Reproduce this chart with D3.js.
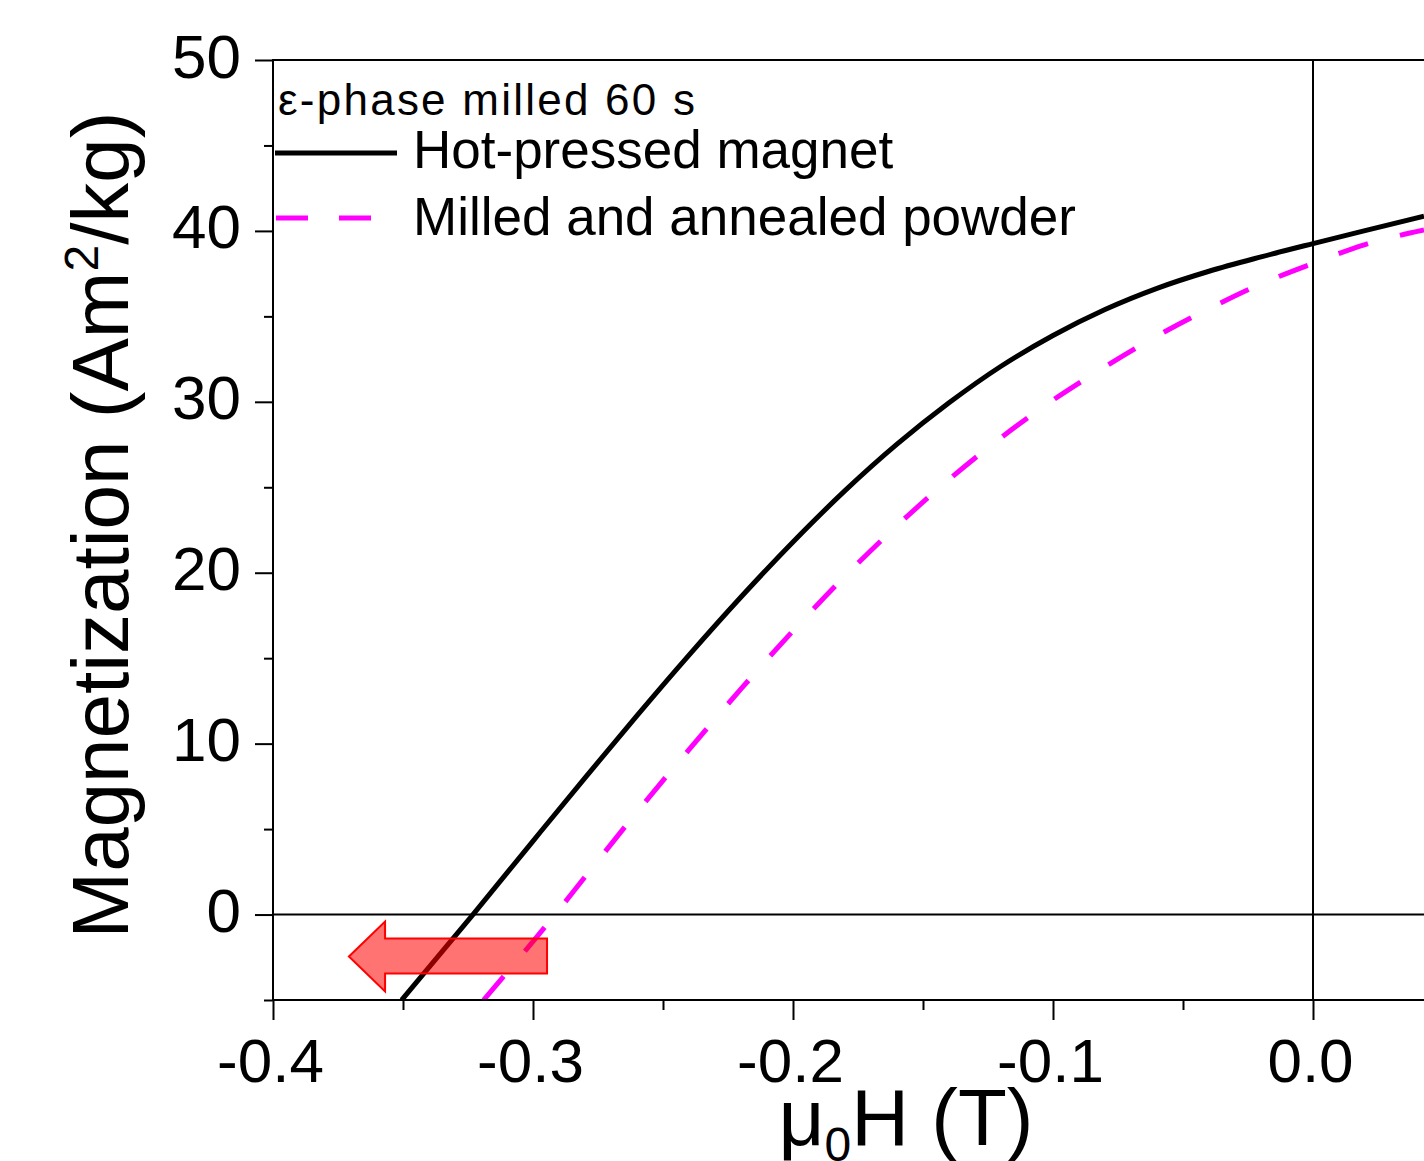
<!DOCTYPE html>
<html>
<head>
<meta charset="utf-8">
<script src="https://cdn.jsdelivr.net/npm/d3@7"></script>
<style>
  html, body { margin: 0; padding: 0; background: #fff; }
  svg { display: block; font-family: "Liberation Sans", Arial, sans-serif; }
</style>
</head>
<body>
<svg id="chart" width="1424" height="1161"></svg>
<script>
// ---- data ----
const hotPressedH = [-0.3505, -0.3231, -0.30, -0.28, -0.26, -0.24, -0.22, -0.20, -0.18, -0.16, -0.14, -0.12, -0.10, -0.08, -0.06, -0.04, -0.02, 0.00, 0.02, 0.0427];
const hotPressedM = [-5.0, 0.0, 4.3, 8.0, 11.64, 15.18, 18.58, 21.8, 24.8, 27.52, 29.94, 32.08, 33.88, 35.4, 36.64, 37.64, 38.48, 39.26, 40.02, 40.86];

const milledH = [-0.319, -0.2915, -0.28, -0.26, -0.24, -0.22, -0.20, -0.18, -0.16, -0.14, -0.12, -0.10, -0.08, -0.06, -0.04, -0.02, 0.00, 0.02, 0.0427];
const milledM = [-5.0, 0.0, 2.2, 6.0, 9.65, 13.2, 16.6, 19.8, 22.75, 25.45, 27.9, 30.1, 32.05, 33.85, 35.45, 36.9, 38.1, 39.2, 40.05];

const seriesNames = ["Hot-pressed magnet", "Milled and annealed powder"];
const annotationTitle = "ε-phase milled 60 s";

const xMajorTicks = [-0.4, -0.3, -0.2, -0.1, 0.0];
const xMinorTicks = [-0.35, -0.25, -0.15, -0.05];
const yMajorTicks = [0, 10, 20, 30, 40, 50];
const yMinorTicks = [-5, 5, 15, 25, 35, 45];

// arrow annotation (data coordinates)
const arrowTip = [-0.3708, -2.46];
const arrowHeadH = -0.3569;
const arrowHeadTop = -0.41, arrowHeadBottom = -4.5;
const arrowBodyRight = -0.2946;
const arrowBodyTop = -1.40, arrowBodyBottom = -3.45;

// ---- layout ----
const svg = d3.select("#chart");
const L = 273, T = 60, B = 1000;
const x = d3.scaleLinear().domain([-0.4, 0.05]).range([L, L + 0.45 * 2600]);
const y = d3.scaleLinear().domain([-5, 50]).range([B, T]);
const R = 1424;

svg.append("defs").append("clipPath").attr("id", "plotclip")
  .append("rect").attr("x", L).attr("y", T).attr("width", R - L).attr("height", B - T);

// zero lines
svg.append("line").attr("x1", L).attr("x2", R).attr("y1", y(0)).attr("y2", y(0))
  .attr("stroke", "#000").attr("stroke-width", 2);
svg.append("line").attr("x1", x(0)).attr("x2", x(0)).attr("y1", T).attr("y2", B)
  .attr("stroke", "#000").attr("stroke-width", 2);

// curves
const line = d3.line().x(d => x(d[0])).y(d => y(d[1])).curve(d3.curveMonotoneX);
const g = svg.append("g").attr("clip-path", "url(#plotclip)");
g.append("path").datum(hotPressedH.map((h, i) => [h, hotPressedM[i]]))
  .attr("d", line).attr("fill", "none").attr("stroke", "#000").attr("stroke-width", 5);
g.append("path").datum(milledH.map((h, i) => [h, milledM[i]]))
  .attr("d", line).attr("fill", "none").attr("stroke", "#ff00ff").attr("stroke-width", 5)
  .attr("stroke-dasharray", "31 33");

// axes
const f1 = d3.format(".1f");
const yAxisMajor = d3.axisLeft(y).tickValues(yMajorTicks).tickSize(18).tickFormat(d3.format("d")).tickPadding(14);
const yAxisMinor = d3.axisLeft(y).tickValues(yMinorTicks).tickSize(9).tickFormat("");
const xAxisMajor = d3.axisBottom(x).tickValues(xMajorTicks).tickSize(20)
  .tickFormat(d => f1(d).replace("\u2212", "-")).tickPadding(20);
const xAxisMinor = d3.axisBottom(x).tickValues(xMinorTicks).tickSize(10).tickFormat("");

function styleAxis(sel, fs) {
  sel.select(".domain").remove();
  sel.selectAll(".tick line").attr("stroke", "#000").attr("stroke-width", 2);
  sel.selectAll(".tick text").attr("fill", "#000").style("font-size", fs + "px")
    .style("font-family", "'Liberation Sans', Arial, sans-serif");
}
const gy = svg.append("g").attr("transform", `translate(${L},0)`).call(yAxisMajor);
styleAxis(gy, 62);
gy.selectAll(".tick text").attr("dy", null).attr("y", 17);
const gym = svg.append("g").attr("transform", `translate(${L},0)`).call(yAxisMinor);
styleAxis(gym, 62);
const gx = svg.append("g").attr("transform", `translate(0,${B})`).call(xAxisMajor);
styleAxis(gx, 62);
gx.selectAll(".tick text").attr("dy", null).attr("y", 82).attr("dx", -3);
const gxm = svg.append("g").attr("transform", `translate(0,${B})`).call(xAxisMinor);
styleAxis(gxm, 62);

// frame lines
svg.append("line").attr("x1", L).attr("x2", L).attr("y1", T).attr("y2", B).attr("stroke", "#000").attr("stroke-width", 2);
svg.append("line").attr("x1", L - 1).attr("x2", R).attr("y1", B).attr("y2", B).attr("stroke", "#000").attr("stroke-width", 2);
svg.append("line").attr("x1", L - 1).attr("x2", R).attr("y1", T).attr("y2", T).attr("stroke", "#000").attr("stroke-width", 2);

// arrow
const arrowPts = [
  [x(arrowTip[0]), y(arrowTip[1])],
  [x(arrowHeadH), y(arrowHeadTop)],
  [x(arrowHeadH), y(arrowBodyTop)],
  [x(arrowBodyRight), y(arrowBodyTop)],
  [x(arrowBodyRight), y(arrowBodyBottom)],
  [x(arrowHeadH), y(arrowBodyBottom)],
  [x(arrowHeadH), y(arrowHeadBottom)]
];
svg.append("polygon").attr("points", arrowPts.map(p => p.join(",")).join(" "))
  .attr("fill", "rgba(255,0,0,0.55)").attr("stroke", "#ff0000").attr("stroke-width", 2);

// legend
svg.append("text").attr("x", 278).attr("y", 115).style("font-size", "44px")
  .attr("textLength", 417).attr("lengthAdjust", "spacing").text(annotationTitle);
svg.append("line").attr("x1", 275).attr("x2", 397).attr("y1", 153).attr("y2", 153)
  .attr("stroke", "#000").attr("stroke-width", 5);
svg.append("text").attr("x", 413).attr("y", 168).style("font-size", "53px").text(seriesNames[0]);
svg.append("line").attr("x1", 276).attr("x2", 374).attr("y1", 218).attr("y2", 218)
  .attr("stroke", "#ff00ff").attr("stroke-width", 5).attr("stroke-dasharray", "32 31");
svg.append("text").attr("x", 413).attr("y", 235).style("font-size", "53px").text(seriesNames[1]);

// axis titles
const yt = svg.append("text").attr("transform", "translate(128,525) rotate(-90)")
  .attr("text-anchor", "middle").style("font-size", "80px");
yt.append("tspan").text("Magnetization (Am");
yt.append("tspan").attr("dy", -30).style("font-size", "48px").text("2");
yt.append("tspan").attr("dy", 30).text("/kg)");

const xt = svg.append("text").attr("x", 906).attr("y", 1145)
  .attr("text-anchor", "middle").style("font-size", "80px");
xt.append("tspan").text("μ");
xt.append("tspan").attr("dy", 16).style("font-size", "48px").text("0");
xt.append("tspan").attr("dy", -16).text("H (T)");
</script>
</body>
</html>
